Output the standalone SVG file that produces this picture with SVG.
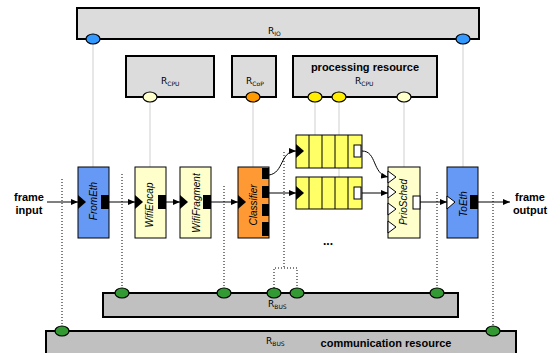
<svg xmlns="http://www.w3.org/2000/svg" width="549" height="353" viewBox="0 0 549 353">
<style>
.res{fill:#dcdcdc;stroke:#000;stroke-width:2}
.bus{fill:#c0c0c0;stroke:#000;stroke-width:2}
.node{stroke:#000;stroke-width:1}
.blue{fill:#6699f5}
.cream{fill:#ffffcc}
.orange{fill:#ff9933}
.q{fill:#ffff66;stroke:#000;stroke-width:1}
.ell{stroke:#000;stroke-width:1.2}
.gl{stroke:#cfcfcf;stroke-width:1;fill:none}
.dl{stroke:#000;stroke-width:1;stroke-dasharray:1,2;fill:none}
.ar{stroke:#000;stroke-width:1;fill:none}
.rl{font-family:"DejaVu Sans","Liberation Sans",sans-serif;font-size:9px;fill:#000}
.sub{font-size:6px}
.bold{font-family:"Liberation Sans",Arial,sans-serif;font-weight:bold;font-size:11px;fill:#000}
.nl{font-family:"Liberation Sans",Arial,sans-serif;font-style:italic;font-size:10px;fill:#000;text-anchor:middle}
</style>
<defs>
<marker id="ah" markerWidth="7" markerHeight="6" refX="7" refY="3" orient="auto" markerUnits="userSpaceOnUse">
<path d="M0,0 L7,3 L0,6 Z" fill="#000"/>
</marker>
</defs>

<g id="resource-lines">
<line class="gl" x1="93" y1="44" x2="93" y2="167"/>
<line class="gl" x1="463" y1="44" x2="463" y2="167"/>
<line class="gl" x1="150" y1="101" x2="150" y2="167"/>
<line class="gl" x1="253" y1="101" x2="253" y2="167"/>
<line class="gl" x1="315" y1="101" x2="315" y2="135"/>
<line class="gl" x1="339" y1="101" x2="339" y2="177"/>
<line class="gl" x1="404" y1="101" x2="404" y2="167"/>
</g>

<g id="R_IO">
<rect class="res" x="77" y="8" width="402" height="31"/>
<text class="rl" x="268" y="34">R<tspan class="sub" dy="2">IO</tspan></text>
<ellipse class="ell" cx="93" cy="39" rx="7" ry="5" fill="#3399ff"/>
<ellipse class="ell" cx="463" cy="39" rx="7" ry="5" fill="#3399ff"/>
</g>

<g id="R_CPU1">
<rect class="res" x="126" y="56" width="88" height="41"/>
<text class="rl" x="161" y="84">R<tspan class="sub" dy="2">CPU</tspan></text>
<ellipse class="ell" cx="150" cy="97" rx="7" ry="5" fill="#ffffcc"/>
</g>

<g id="R_CoP">
<rect class="res" x="232" y="56" width="44" height="41"/>
<text class="rl" x="246" y="84">R<tspan class="sub" dy="2">CoP</tspan></text>
<ellipse class="ell" cx="253" cy="97" rx="7" ry="5" fill="#ff9900"/>
</g>

<g id="processing-resource">
<rect class="res" x="293" y="56" width="144" height="41"/>
<text class="bold" x="365" y="71" text-anchor="middle">processing resource</text>
<text class="rl" x="355" y="84">R<tspan class="sub" dy="2">CPU</tspan></text>
<ellipse class="ell" cx="315" cy="97" rx="7" ry="5" fill="#ffee00"/>
<ellipse class="ell" cx="339" cy="97" rx="7" ry="5" fill="#ffee00"/>
<ellipse class="ell" cx="404" cy="97" rx="7" ry="5" fill="#ffffcc"/>
</g>

<g id="dotted-lines">
<line class="dl" x1="62" y1="179" x2="62" y2="326"/>
<line class="dl" x1="122" y1="174" x2="122" y2="288"/>
<line class="dl" x1="224" y1="186" x2="224" y2="288"/>
<path class="dl" d="M284,152 V268 M274,288 V268 H297 V288"/>
<line class="dl" x1="437" y1="192" x2="437" y2="288"/>
<line class="dl" x1="493" y1="192" x2="493" y2="326"/>
</g>

<g id="R_BUS1">
<rect class="bus" x="103" y="293" width="355" height="24"/>
<text class="rl" x="268" y="307">R<tspan class="sub" dy="2">BUS</tspan></text>
<ellipse class="ell" cx="122" cy="293" rx="7" ry="5" fill="#339933"/>
<ellipse class="ell" cx="224" cy="293" rx="7" ry="5" fill="#339933"/>
<ellipse class="ell" cx="274" cy="293" rx="7" ry="5" fill="#339933"/>
<ellipse class="ell" cx="297" cy="293" rx="7" ry="5" fill="#339933"/>
<ellipse class="ell" cx="437" cy="293" rx="7" ry="5" fill="#339933"/>
</g>

<g id="communication-resource">
<rect class="bus" x="46" y="331" width="470" height="30"/>
<text class="rl" x="266" y="344">R<tspan class="sub" dy="2">BUS</tspan></text>
<text class="bold" x="386" y="347" text-anchor="middle">communication resource</text>
<ellipse class="ell" cx="62" cy="331" rx="7" ry="5" fill="#339933"/>
<ellipse class="ell" cx="493" cy="331" rx="7" ry="5" fill="#339933"/>
</g>

<g id="connectors">
<line class="ar" x1="47" y1="202" x2="78" y2="202" marker-end="url(#ah)"/>
<line class="ar" x1="109" y1="202" x2="135" y2="202" marker-end="url(#ah)"/>
<line class="ar" x1="166" y1="202" x2="180" y2="202" marker-end="url(#ah)"/>
<line class="ar" x1="211" y1="202" x2="238" y2="202" marker-end="url(#ah)"/>
<path class="ar" d="M269,175 C284,173 280,151 296,151" marker-end="url(#ah)"/>
<line class="ar" x1="269" y1="193" x2="296" y2="193" marker-end="url(#ah)"/>
<path class="ar" d="M362,151 C377,151 372,174 388,177" marker-end="url(#ah)"/>
<line class="ar" x1="362" y1="193" x2="388" y2="193" marker-end="url(#ah)"/>
<line class="ar" x1="420" y1="202" x2="447" y2="202" marker-end="url(#ah)"/>
<line class="ar" x1="478" y1="202" x2="510" y2="202" marker-end="url(#ah)"/>
</g>

<g id="frame-input">
<text class="bold" x="29" y="201" text-anchor="middle">frame</text>
<text class="bold" x="29" y="214" text-anchor="middle">input</text>
</g>
<g id="frame-output">
<text class="bold" x="530" y="201" text-anchor="middle">frame</text>
<text class="bold" x="530" y="214" text-anchor="middle">output</text>
</g>

<g id="FromEth">
<rect class="node blue" x="78" y="167" width="31" height="71"/>
<polygon points="78,195 86,202 78,209" fill="#000"/>
<rect x="101" y="195" width="8" height="14" fill="#000"/>
<text class="nl" transform="translate(97,201) rotate(-90)">FromEth</text>
</g>

<g id="WifiEncap">
<rect class="node cream" x="135" y="167" width="31" height="71"/>
<polygon points="135,195 143,202 135,209" fill="#000"/>
<rect x="158" y="195" width="8" height="14" fill="#000"/>
<text class="nl" transform="translate(153,205) rotate(-90)">WifiEncap</text>
</g>

<g id="WifiFragment">
<rect class="node cream" x="180" y="167" width="31" height="71"/>
<polygon points="180,195 188,202 180,209" fill="#000"/>
<rect x="203" y="195" width="8" height="14" fill="#000"/>
<text class="nl" transform="translate(200,203) rotate(-90)">WifiFragment</text>
</g>

<g id="Classifier">
<rect class="node orange" x="238" y="167" width="31" height="71"/>
<polygon points="238,195 246,202 238,209" fill="#000"/>
<rect x="262" y="168" width="7" height="11" fill="#000"/>
<rect x="262" y="186" width="7" height="12" fill="#000"/>
<rect x="262" y="204" width="7" height="12" fill="#000"/>
<rect x="262" y="222" width="7" height="14" fill="#000"/>
<text class="nl" transform="translate(257,205) rotate(-90)">Classifier</text>
</g>

<g id="Queue1">
<rect class="q" x="296" y="135" width="66" height="33"/>
<path d="M309,135 V168 M322,135 V168 M335,135 V168 M348,135 V168" stroke="#000" stroke-width="1"/>
<polygon points="296,144 304,151 296,158" fill="#000"/>
<rect x="354" y="145" width="7" height="12" fill="#fff" stroke="#000" stroke-width="1"/>
</g>

<g id="Queue2">
<rect class="q" x="296" y="177" width="66" height="32"/>
<path d="M309,177 V209 M322,177 V209 M335,177 V209 M348,177 V209" stroke="#000" stroke-width="1"/>
<polygon points="296,186 304,193 296,200" fill="#000"/>
<rect x="354" y="187" width="7" height="12" fill="#fff" stroke="#000" stroke-width="1"/>
</g>

<g id="ellipsis">
<text x="328" y="245" text-anchor="middle" font-family="Liberation Sans, Arial, sans-serif" font-weight="bold" font-size="12">...</text>
</g>

<g id="PrioSched">
<rect class="node cream" x="388" y="167" width="32" height="71"/>
<polygon points="388,171 396,177 388,183" fill="#fff" stroke="#000" stroke-width="1"/>
<polygon points="388,186 396,192 388,198" fill="#fff" stroke="#000" stroke-width="1"/>
<polygon points="388,203 396,209 388,215" fill="#fff" stroke="#000" stroke-width="1"/>
<polygon points="388,221 396,227 388,233" fill="#fff" stroke="#000" stroke-width="1"/>
<rect x="413" y="196" width="7" height="13" fill="#fff" stroke="#000" stroke-width="1"/>
<text class="nl" transform="translate(407,202) rotate(-90)">PrioSched</text>
</g>

<g id="ToEth">
<rect class="node blue" x="447" y="167" width="31" height="71"/>
<polygon points="447,196 455,202 447,209" fill="#fff" stroke="#000" stroke-width="1"/>
<rect x="470" y="195" width="8" height="14" fill="#000"/>
<text class="nl" transform="translate(467,204) rotate(-90)">ToEth</text>
</g>
</svg>
